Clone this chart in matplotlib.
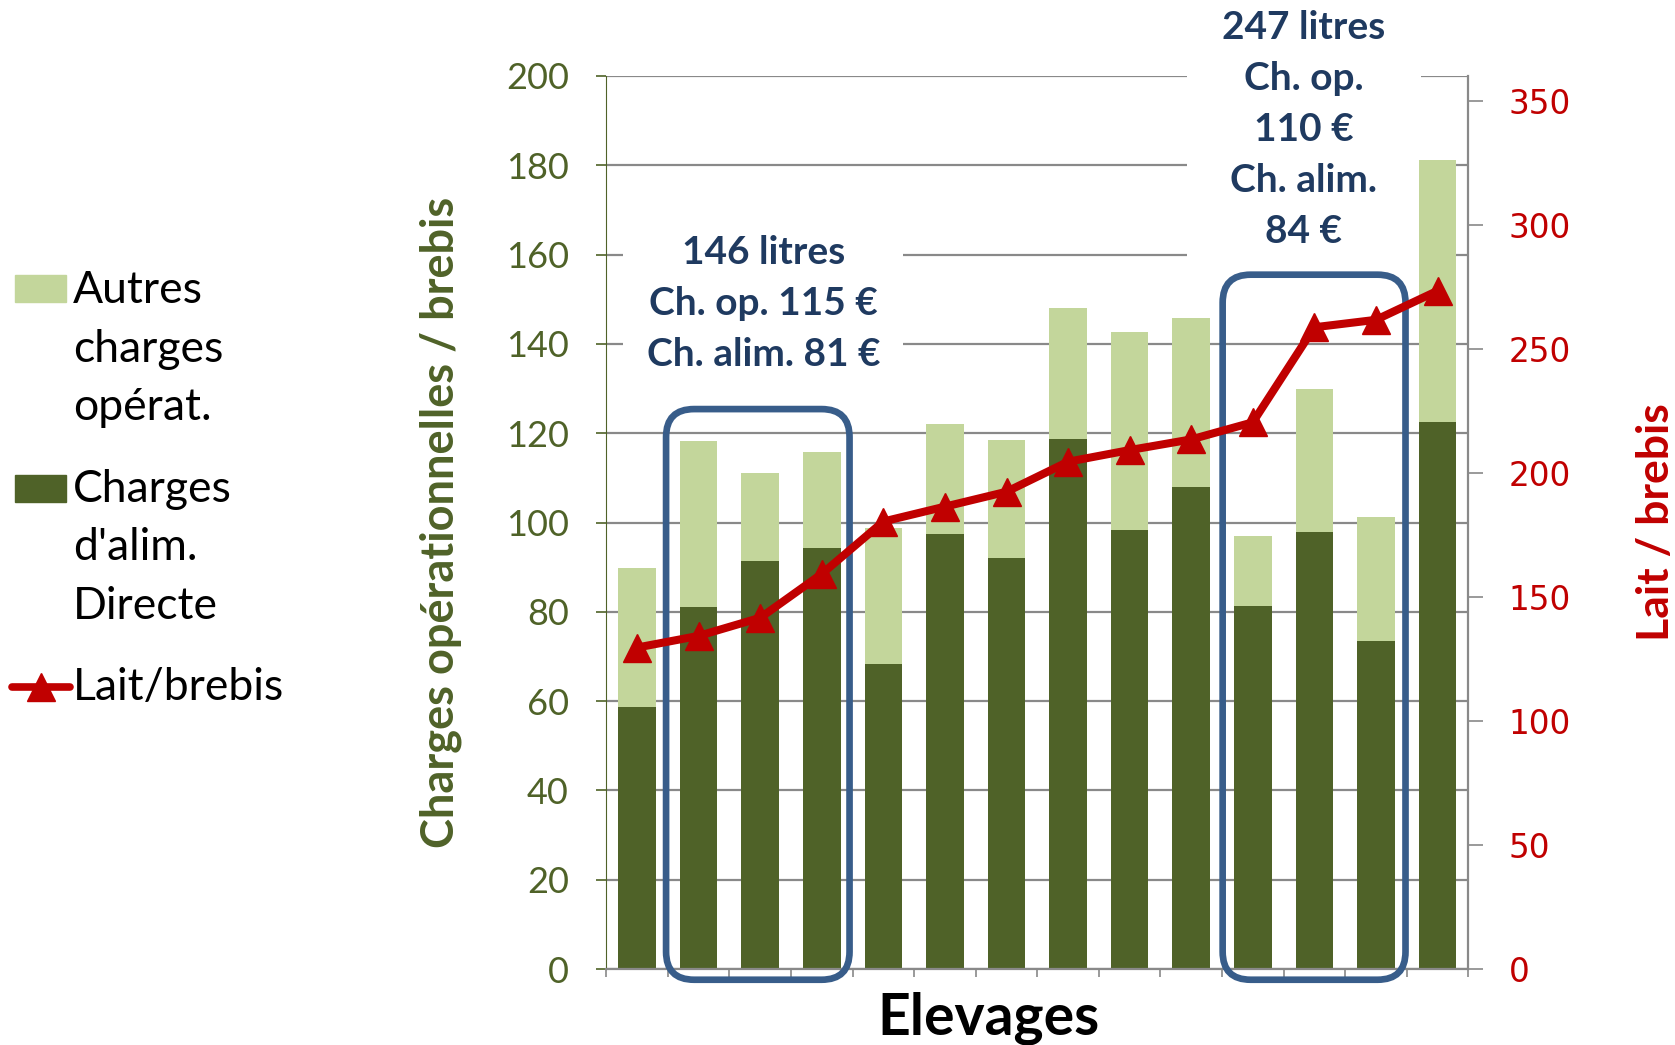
import numpy as np
import matplotlib
matplotlib.use("Agg")
import matplotlib.pyplot as plt
from matplotlib.patches import FancyBboxPatch, Rectangle
from matplotlib.lines import Line2D
from matplotlib.transforms import IdentityTransform

# Charges par brebis (euros) pour 14 elevages
alim = [58.6, 81.1, 91.4, 94.3, 68.2, 97.4, 92.1, 118.7, 98.3, 107.9, 81.3, 97.8, 73.4, 122.5]
total = [89.7, 118.2, 111.0, 115.8, 98.8, 122.0, 118.4, 148.0, 142.6, 145.9, 96.9, 129.9, 101.2, 181.1]
autres = [t - a for t, a in zip(total, alim)]

# Lait par brebis (litres)
lait = [129.6, 134.3, 141.6, 159.3, 180.4, 186.4, 192.4, 204.5, 209.2, 213.5, 220.4, 258.7, 261.7, 273.4]

left_ticks = list(range(0, 201, 20))
right_ticks = list(range(0, 351, 50))

DARK = "#4F6228"
LIGHT = "#C3D69B"
RED = "#C00000"
BLUE = "#385D8A"
NAVY = "#1F3A60"
GRID = "#898989"
FONT = "Lato"

fig = plt.figure(figsize=(16.75, 10.45), dpi=100)
ax = fig.add_axes([0.362, 0.0727, 0.5146, 0.8546])

x = np.arange(len(alim))
ax.bar(x, alim, width=0.61, color=DARK, zorder=2)
ax.bar(x, autres, bottom=alim, width=0.61, color=LIGHT, zorder=2)

ax.set_xlim(-0.5, len(alim) - 0.5)
ax.set_ylim(0, 200)
ax.set_yticks(left_ticks)
ax.set_axisbelow(True)
ax.yaxis.grid(True, color=GRID, lw=1.6)
ax.set_xticks([])
ax.set_xticks(np.arange(-0.5, len(alim)), minor=True)
ax.tick_params(axis="x", which="minor", length=6, color=GRID, width=1.2)
ax.tick_params(axis="y", length=7, color=DARK, width=1.2, pad=20,
               labelsize=26, labelcolor=DARK)
for lab in ax.get_yticklabels():
    lab.set_family(FONT)
ax.spines["top"].set_visible(False)
ax.spines["right"].set_visible(False)
ax.spines["left"].set_color(DARK)
ax.spines["bottom"].set_color(GRID)
ax.spines["bottom"].set_linewidth(1.6)

ax.set_ylabel("Charges opérationnelles / brebis", fontsize=32.5, fontweight="bold",
              color=DARK, family=FONT)
ax.yaxis.set_label_coords(-0.168, 0.5)
ax.set_xlabel("Elevages", fontsize=41, fontweight="bold", color="black", family=FONT)
ax.xaxis.set_label_coords(0.443, -0.025)

# second axis: lait / brebis
ax2 = ax.twinx()
ax2.plot(x, lait, color=RED, lw=5.8, marker="^", markersize=20, zorder=5,
         clip_on=False)
ax2.set_ylim(0, 360)
ax2.set_yticks(right_ticks)
ax2.tick_params(axis="y", length=11, color=GRID, width=1.2, pad=18,
                labelsize=23.5, labelcolor=RED)
for s in ["top", "left", "bottom"]:
    ax2.spines[s].set_visible(False)
ax2.spines["right"].set_color(GRID)
ax2.spines["right"].set_linewidth(1.6)
ax2.set_ylabel("Lait / brebis", fontsize=32, fontweight="bold", color=RED,
               family=FONT)
ax2.yaxis.set_label_coords(1.194, 0.5)

# rounded frames around the two groups
frames = [(0.47, 3.45, -2.4, 125.4), (9.51, 12.48, -2.4, 155.5)]
for x0, x1, y0, y1 in frames:
    px0, py0 = ax.transData.transform((x0, y0))
    px1, py1 = ax.transData.transform((x1, y1))
    box = FancyBboxPatch((px0, py0), px1 - px0, py1 - py0,
                         boxstyle="round,pad=0,rounding_size=28",
                         transform=IdentityTransform(), fc="none", ec=BLUE,
                         lw=4.8, zorder=3, clip_on=False)
    ax.add_patch(box)

ax.text(2.05, 149.0, "146 litres\nCh. op. 115 €\nCh. alim. 81 €", ha="center",
        va="center", fontsize=28, fontweight="bold", color=NAVY, family=FONT,
        linespacing=1.55, zorder=1,
        bbox=dict(boxstyle="square,pad=0.6", fc="white", ec="none"))
ax.text(10.83, 188.0, "247 litres\nCh. op.\n110 €\nCh. alim.\n84 €", ha="center",
        va="center", fontsize=28, fontweight="bold", color=NAVY, family=FONT,
        linespacing=1.55, zorder=1, clip_on=False,
        bbox=dict(boxstyle="square,pad=0.9", fc="white", ec="none"))

# legend drawn by hand (handles aligned with first line)
W, H = 1675, 1045
def fy(p):
    return 1 - p / H

entries = [
    (["Autres", "charges", "opérat."], 303, "patch", LIGHT, 275),
    (["Charges", "d'alim.", "Directe"], 502, "patch", DARK, 475),
    (["Lait/brebis"], 700, "line", RED, 687),
]
for lines, base, kind, col, hy in entries:
    for i, line in enumerate(lines):
        fig.text(73 / W, fy(base + i * 58.5), line, fontsize=32, family=FONT,
                 va="baseline", ha="left")
    if kind == "patch":
        fig.add_artist(Rectangle((15 / W, fy(hy + 27)), 51 / W, 27 / H,
                                 transform=fig.transFigure, color=col))
    else:
        fig.add_artist(Line2D([12 / W, 70 / W], [fy(hy), fy(hy)], color=col,
                              lw=5.5, solid_capstyle="round",
                              transform=fig.transFigure))
        fig.add_artist(Line2D([41 / W], [fy(hy)], color=col, marker="^",
                              markersize=20, transform=fig.transFigure))

fig.savefig("out.png", dpi=100)
